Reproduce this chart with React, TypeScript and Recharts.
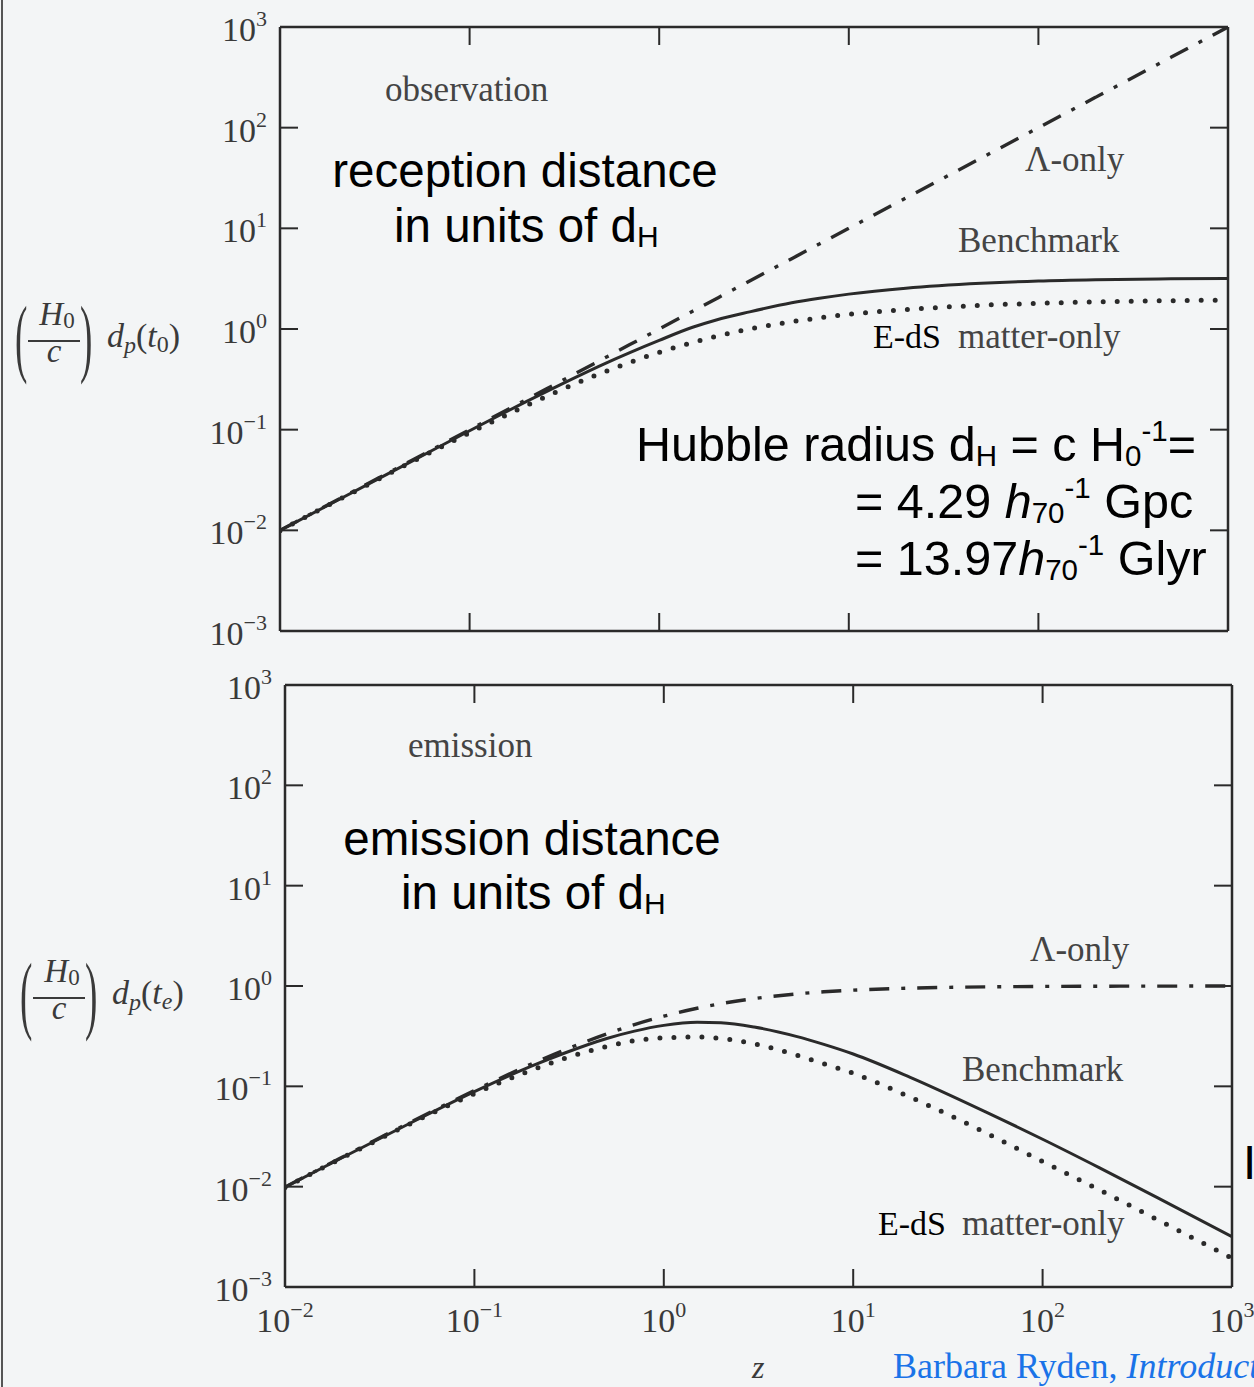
import React from 'react';
import { LineChart, Line, XAxis, YAxis } from 'recharts';

// redshift sample points read along the x axis
const zValues = [0.01, 0.02, 0.05, 0.1, 0.2, 0.3, 0.5, 0.7, 1, 1.5, 2, 3, 5, 7, 10, 20, 50, 100, 200, 500, 1000];

// top panel: (H0/c) d_p(t0), reception distance
const recBenchmark = [0.00996, 0.0198, 0.049, 0.0976, 0.191, 0.279, 0.441, 0.583, 0.771, 1.04, 1.23, 1.48, 1.82, 2.02, 2.22, 2.54, 2.84, 3.0, 3.09, 3.15, 3.18];
const recLambda = [0.01, 0.02, 0.05, 0.1, 0.2, 0.3, 0.5, 0.7, 1, 1.5, 2, 3, 5, 7, 10, 20, 50, 100, 200, 500, 1000];
const recEdS = [0.00993, 0.0197, 0.0482, 0.0931, 0.174, 0.246, 0.367, 0.466, 0.586, 0.735, 0.845, 1.0, 1.18, 1.29, 1.4, 1.56, 1.72, 1.8, 1.86, 1.91, 1.94];

// bottom panel: (H0/c) d_p(te), emission distance
const emiBenchmark = [0.00986, 0.0194, 0.0467, 0.0887, 0.159, 0.215, 0.3, 0.355, 0.405, 0.435, 0.43, 0.39, 0.315, 0.262, 0.21, 0.123, 0.0557, 0.0297, 0.0154, 0.00629, 0.00318];
const emiLambda = [0.0099, 0.0196, 0.0476, 0.0909, 0.167, 0.231, 0.333, 0.412, 0.5, 0.6, 0.667, 0.75, 0.833, 0.875, 0.909, 0.952, 0.98, 0.99, 0.995, 0.998, 0.999];
const emiEdS = [0.00983, 0.0193, 0.0459, 0.0846, 0.145, 0.19, 0.25, 0.285, 0.305, 0.31, 0.3, 0.265, 0.205, 0.168, 0.135, 0.078, 0.0345, 0.0178, 0.00925, 0.00381, 0.00194];

const xTicks = [0.01, 0.1, 1, 10, 100, 1000];
const yTicks = [0.001, 0.01, 0.1, 1, 10, 100, 1000];

const recData = zValues.map((z, i) => ({ z, bench: recBenchmark[i], lambda: recLambda[i], eds: recEdS[i] }));
const emiData = zValues.map((z, i) => ({ z, bench: emiBenchmark[i], lambda: emiLambda[i], eds: emiEdS[i] }));

const INK = '#2a2a2a';
const TEXT = '#3a3a3a';
const SERIF = '"Liberation Serif", "DejaVu Serif", serif';
const SANS = '"Liberation Sans", Arial, sans-serif';
const TICK_LEN = 18;

const exponent = (v: number) => {
  const e = Math.round(Math.log10(v));
  return e < 0 ? '\u2212' + Math.abs(e) : String(e);
};
const isEnd = (v: number, ticks: number[]) => v === ticks[0] || v === ticks[ticks.length - 1];

const LeftTick = (props: any) => {
  const { x, y, payload } = props;
  const v = payload.value;
  return (
    <g>
      {!isEnd(v, yTicks) && <line x1={x} x2={x + TICK_LEN} y1={y} y2={y} stroke={INK} strokeWidth={2} />}
      <text x={x - 13} y={y + 14} textAnchor="end" fontFamily={SERIF} fontSize={34} fill={TEXT}>
        10<tspan dy={-15} fontSize={22}>{exponent(v)}</tspan>
      </text>
    </g>
  );
};

const RightTick = (props: any) => {
  const { x, y, payload } = props;
  if (isEnd(payload.value, yTicks)) return <g />;
  return <line x1={x} x2={x - TICK_LEN} y1={y} y2={y} stroke={INK} strokeWidth={2} />;
};

const TopTick = (props: any) => {
  const { x, y, payload } = props;
  if (isEnd(payload.value, xTicks)) return <g />;
  return <line x1={x} x2={x} y1={y} y2={y + TICK_LEN} stroke={INK} strokeWidth={2} />;
};

const BottomTick = (props: any) => {
  const { x, y, payload, showLabel } = props;
  const v = payload.value;
  return (
    <g>
      {!isEnd(v, xTicks) && <line x1={x} x2={x} y1={y} y2={y - TICK_LEN} stroke={INK} strokeWidth={2} />}
      {showLabel && (
        <text x={x} y={y + 45} textAnchor="middle" fontFamily={SERIF} fontSize={34} fill={TEXT}>
          10<tspan dy={-15} fontSize={22}>{exponent(v)}</tspan>
        </text>
      )}
    </g>
  );
};

const axisLine = { stroke: INK, strokeWidth: 2.5 };

function Panel({ data, width, height, left, right, top, bottom, showX }: any) {
  return (
    <LineChart width={width} height={height} data={data} margin={{ top: 0, right: 0, bottom: 0, left: 0 }}>
      <XAxis xAxisId="b" dataKey="z" type="number" scale="log" domain={[0.01, 1000]} ticks={xTicks} interval={0}
        allowDataOverflow height={bottom} tickSize={0} tickMargin={0} tickLine={false} axisLine={axisLine}
        tick={<BottomTick showLabel={showX} />} />
      <XAxis xAxisId="t" orientation="top" dataKey="z" type="number" scale="log" domain={[0.01, 1000]} ticks={xTicks} interval={0}
        allowDataOverflow height={top} tickSize={0} tickMargin={0} tickLine={false} axisLine={axisLine}
        tick={<TopTick />} />
      <YAxis yAxisId="l" type="number" scale="log" domain={[0.001, 1000]} ticks={yTicks} interval={0}
        allowDataOverflow width={left} tickSize={0} tickMargin={0} tickLine={false} axisLine={axisLine}
        tick={<LeftTick />} />
      <YAxis yAxisId="r" orientation="right" type="number" scale="log" domain={[0.001, 1000]} ticks={yTicks} interval={0}
        allowDataOverflow width={right} tickSize={0} tickMargin={0} tickLine={false} axisLine={axisLine}
        tick={<RightTick />} />
      <Line xAxisId="b" yAxisId="l" dataKey="lambda" type="monotone" stroke={INK} strokeWidth={3.4}
        strokeDasharray="20 12 4 12" dot={false} activeDot={false} isAnimationActive={false} />
      <Line xAxisId="b" yAxisId="l" dataKey="eds" type="monotone" stroke={INK} strokeWidth={5}
        strokeDasharray="0 14" strokeLinecap="round" dot={false} activeDot={false} isAnimationActive={false} />
      <Line xAxisId="b" yAxisId="l" dataKey="bench" type="monotone" stroke={INK} strokeWidth={3}
        dot={false} activeDot={false} isAnimationActive={false} />
    </LineChart>
  );
}

// (H0 / c) d_p(t) written as a fraction in brackets; y is the fraction bar
function AxisTitle({ x, y, sub }: { x: number; y: number; sub: string }) {
  return (
    <g fill={TEXT} fontFamily={SERIF}>
      <text x={0} y={0} fontSize={60} transform={`translate(${x + 1},${y + 25}) scale(0.62,1.45)`}>(</text>
      <text x={x + 43} y={y - 16} fontSize={33} fontStyle="italic" textAnchor="middle">
        H<tspan fontSize={23} dy={3} fontStyle="normal">0</tspan>
      </text>
      <line x1={x + 14} x2={x + 66} y1={y} y2={y} stroke={TEXT} strokeWidth={1.8} />
      <text x={x + 40} y={y + 21} fontSize={33} fontStyle="italic" textAnchor="middle">c</text>
      <text x={0} y={0} fontSize={60} transform={`translate(${x + 66},${y + 25}) scale(0.62,1.45)`}>)</text>
      <text x={x + 93} y={y + 6} fontSize={34} fontStyle="italic">
        d<tspan fontSize={24} dy={6}>p</tspan>
        <tspan dy={-6} fontStyle="normal">(</tspan>t
        <tspan fontSize={24} dy={5} fontStyle={sub === '0' ? 'normal' : 'italic'}>{sub}</tspan>
        <tspan dy={-5} fontStyle="normal">)</tspan>
      </text>
    </g>
  );
}

function Annotations() {
  const serifLabel = { fontFamily: SERIF, fontSize: 35, fill: '#444' };
  const big = { fontFamily: SANS, fontSize: 47.5, fill: '#000' };
  const hub = { fontFamily: SANS, fontSize: 48.5, fill: '#000' };
  return (
    <svg width={1254} height={1387} style={{ position: 'absolute', left: 0, top: 0, pointerEvents: 'none' }}>
      <AxisTitle x={14} y={341} sub="0" />
      <AxisTitle x={19} y={998} sub="e" />

      <text x={385} y={101} {...serifLabel}>observation</text>
      <text x={1025} y={171} {...serifLabel}>Λ-only</text>
      <text x={958} y={252} {...serifLabel}>Benchmark</text>
      <text x={873} y={348} fontFamily={SERIF} fontSize={34} fill="#000">E-dS</text>
      <text x={958} y={348} {...serifLabel}>matter-only</text>

      <text x={408} y={757} {...serifLabel}>emission</text>
      <text x={1030} y={961} {...serifLabel}>Λ-only</text>
      <text x={962} y={1081} {...serifLabel}>Benchmark</text>
      <text x={878} y={1235} fontFamily={SERIF} fontSize={34} fill="#000">E-dS</text>
      <text x={962} y={1235} {...serifLabel}>matter-only</text>

      <text x={525} y={187} textAnchor="middle" {...big}>reception distance</text>
      <text x={394} y={242} {...big}>in units of d<tspan fontSize={30} dy={5}>H</tspan></text>

      <text x={532} y={855} textAnchor="middle" {...big}>emission distance</text>
      <text x={401} y={909} {...big}>in units of d<tspan fontSize={30} dy={5}>H</tspan></text>

      <text x={636} y={461} {...hub}>
        Hubble radius d<tspan fontSize={29.5} dy={5}>H</tspan>
        <tspan dy={-5}> = c H</tspan>
        <tspan fontSize={29.5} dy={5}>0</tspan>
        <tspan fontSize={29.5} dy={-25}>-1</tspan>
        <tspan dy={20}>=</tspan>
      </text>
      <text x={855} y={518} {...hub}>
        = 4.29 <tspan fontStyle="italic">h</tspan>
        <tspan fontSize={29.5} dy={5}>70</tspan>
        <tspan fontSize={29.5} dy={-25}>-1</tspan>
        <tspan dy={20}> Gpc</tspan>
      </text>
      <text x={855} y={575} {...hub}>
        = 13.97<tspan fontStyle="italic">h</tspan>
        <tspan fontSize={29.5} dy={5}>70</tspan>
        <tspan fontSize={29.5} dy={-25}>-1</tspan>
        <tspan dy={20}> Glyr</tspan>
      </text>

      <text x={1243} y={1179} {...big}>I</text>

      <text x={752} y={1378} fontFamily={SERIF} fontSize={32} fontStyle="italic" fill={TEXT}>z</text>
      <text x={893} y={1378} fontFamily={SERIF} fontSize={36} fill="#1a73e8">
        Barbara Ryden, <tspan fontStyle="italic">Introduction to Cosmology</tspan>
      </text>
    </svg>
  );
}

export default function App() {
  return (
    <div style={{ position: 'absolute', left: 0, top: 0, width: 1254, height: 1387, overflow: 'hidden', background: '#f3f5f6' }}>
      <div style={{ position: 'absolute', left: 1, top: 0, width: 2, height: 1387, background: '#555' }} />
      <div style={{ position: 'absolute', left: 0, top: 0 }}>
        <Panel data={recData} width={1254} height={660} left={280} right={26} top={27} bottom={29} showX={false} />
      </div>
      <div style={{ position: 'absolute', left: 0, top: 658 }}>
        <Panel data={emiData} width={1254} height={729} left={285} right={22} top={27} bottom={100} showX={true} />
      </div>
      <Annotations />
    </div>
  );
}
